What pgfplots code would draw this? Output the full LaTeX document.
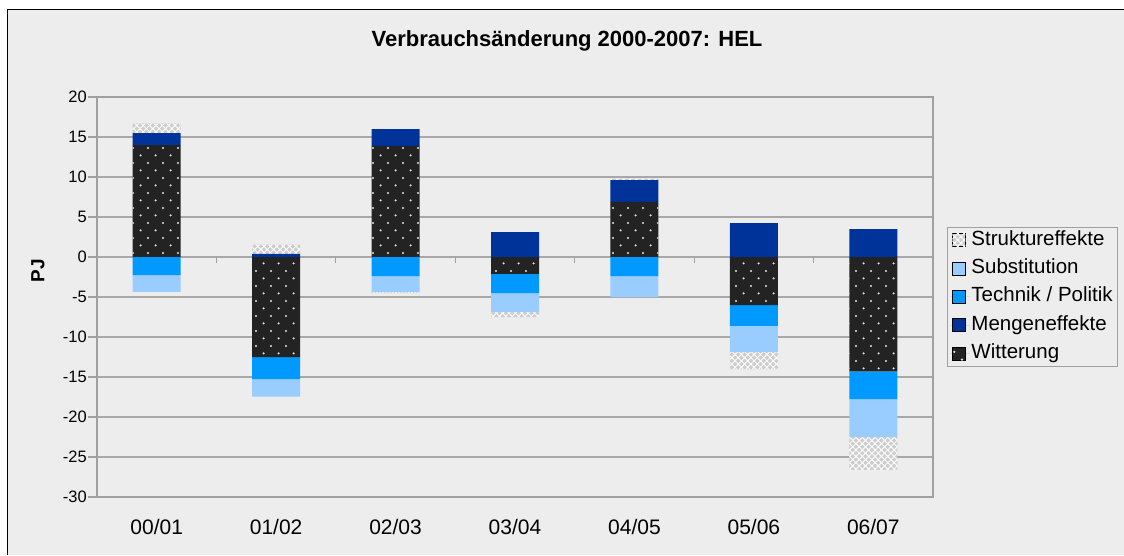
\documentclass[border=0pt]{standalone}
\usepackage{fontspec}
\setmainfont{Liberation Sans}
\usepackage{pgfplots}
\pgfplotsset{compat=1.18}
\usetikzlibrary{patterns.meta}
\definecolor{bg}{HTML}{EDEDED}
\definecolor{gridc}{HTML}{A8A8A8}
\definecolor{axc}{HTML}{A0A0A0}
\definecolor{witt}{HTML}{232323}
\definecolor{menge}{HTML}{003399}
\definecolor{tech}{HTML}{0099FF}
\definecolor{subst}{HTML}{99CCFF}
\definecolor{strukt}{HTML}{CDCDCD}
\tikzdeclarepattern{name=wdots, type=uncolored,
  bounding box={(0pt,0pt) and (15.33pt,15.33pt)},
  tile size={(15.33pt,15.33pt)},
  code={\fill (3.8pt,3.8pt) circle (1.25pt); \fill (11.47pt,11.47pt) circle (1.25pt);}}
\pgfplotsset{
  wstyle/.style={fill=witt, draw=none, postaction={pattern=wdots, pattern color=white!80!gray}},
  mstyle/.style={fill=menge, draw=none},
  tstyle/.style={fill=tech, draw=none},
  sstyle/.style={fill=subst, draw=none},
  ststyle/.style={fill=strukt, draw=none,
     postaction={pattern={Lines[angle=45,distance=4.5pt,line width=1pt]}, pattern color=white!92!strukt},
     postaction={pattern={Lines[angle=-45,distance=4.5pt,line width=1pt]}, pattern color=white!92!strukt}},
  common/.style={at={(97pt,58pt)}, anchor=south west, scale only axis,
     width=836pt, height=400pt, xmin=-0.5, xmax=6.5, ymin=-30, ymax=20,
     ybar stacked, bar width=48pt},
}
\begin{document}
\begin{tikzpicture}
\useasboundingbox (0,0) rectangle (1124pt,555pt);
\fill[white] (0,0) rectangle (1124pt,555pt);
\fill[bg] (7.5pt,0) rectangle (1124pt,545.5pt);
\draw[black, line width=1.4pt] (7.5pt,0) -- (7.5pt,545.5pt) -- (1124pt,545.5pt);
\node[font=\bfseries\fontsize{22}{26}\selectfont] at (567pt,514pt) {Verbrauchsänderung 2000-2007: HEL};

% positive parts
\begin{axis}[common,
  axis line style={axc, line width=1.5pt},
  ytick={-30,-25,...,20}, xtick={0,...,6},
  xticklabels={00/01,01/02,02/03,03/04,04/05,05/06,06/07},
  ymajorgrids, grid style={gridc, line width=1.2pt},
  tick align=outside, ytick pos=left, major tick length=9pt,
  tick style={axc, line width=1.2pt},
  xtick style={draw=none},
  /pgf/number format/assume math mode=true,
  yticklabel style={font=\fontsize{16.5}{18}\selectfont, inner sep=1pt},
  xticklabel style={font=\fontsize{21}{24}\selectfont, yshift=-10pt},
  ylabel={\textbf{PJ}},
  ylabel style={font=\fontsize{19}{22}\selectfont, at={(axis description cs:-0.0706,0.565)}, anchor=center},
]
\addplot[wstyle] coordinates {(0,14.0) (1,0) (2,13.9) (3,0) (4,6.9) (5,0) (6,0)};
\addplot[mstyle] coordinates {(0,1.5) (1,0.4) (2,2.1) (3,3.1) (4,2.7) (5,4.25) (6,3.5)};
\addplot[ststyle] coordinates {(0,1.2) (1,1.15) (2,0) (3,0) (4,0.2) (5,0) (6,0)};
\pgfplotsinvokeforeach{0.5,1.5,2.5,3.5,4.5,5.5}{\draw[axc, line width=1.2pt] (axis cs:#1,0) -- ([yshift=-6pt]axis cs:#1,0);}
\end{axis}

% negative parts
\begin{axis}[common, hide axis,
  legend image code/.code={\path (0pt,0pt) -- (19pt,0pt); \draw[#1] (2pt,-6.5pt) rectangle (15pt,6.5pt);},
  legend cell align=left,
  legend style={at={(axis description cs:1.0167,0.6758)}, anchor=north west,
     draw=axc, fill=bg, line width=1pt, font=\fontsize{20.5}{23}\selectfont,
     inner xsep=3pt, inner ysep=2pt, row sep=6.4pt,
     nodes={inner sep=2pt, text height=14pt, text depth=4pt}},
]
\addplot[wstyle, forget plot] coordinates {(0,0) (1,-12.5) (2,0) (3,-2.1) (4,0) (5,-6.0) (6,-14.3)};
\addplot[tstyle, forget plot] coordinates {(0,-2.25) (1,-2.75) (2,-2.4) (3,-2.4) (4,-2.4) (5,-2.6) (6,-3.45)};
\addplot[sstyle, forget plot] coordinates {(0,-2.1) (1,-2.2) (2,-1.95) (3,-2.4) (4,-2.6) (5,-3.3) (6,-4.75)};
\addplot[ststyle, forget plot] coordinates {(0,0) (1,0) (2,-0.15) (3,-0.6) (4,0) (5,-2.1) (6,-4.1)};
\addlegendimage{ststyle}
\addlegendentry{Struktureffekte}
\addlegendimage{sstyle}
\addlegendentry{Substitution}
\addlegendimage{tstyle}
\addlegendentry{Technik / Politik}
\addlegendimage{mstyle}
\addlegendentry{Mengeneffekte}
\addlegendimage{wstyle}
\addlegendentry{Witterung}
\end{axis}
\end{tikzpicture}
\end{document}
